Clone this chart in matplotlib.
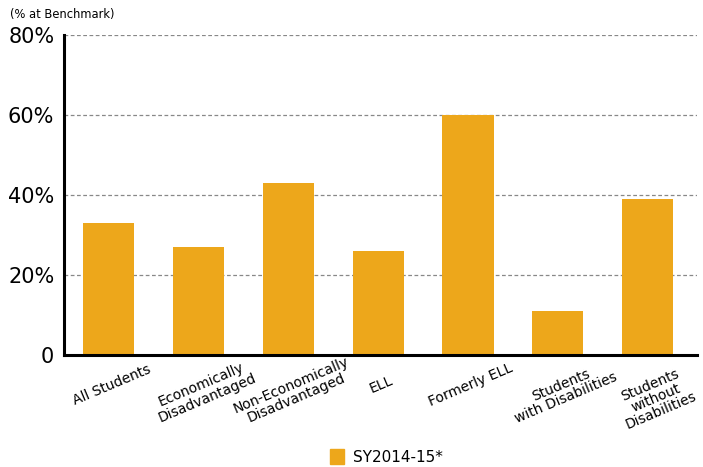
import matplotlib.pyplot as plt
from matplotlib.patches import Patch
import numpy as np

categories = ['All Students', 'Economically\nDisadvantaged', 'Non-Economically\nDisadvantaged',
              'ELL', 'Formerly ELL', 'Students\nwith Disabilities', 'Students\nwithout\nDisabilities']
values = [33, 27, 43, 26, 60, 11, 39]
series_name = 'SY2014-15*'
yticks = [0, 20, 40, 60, 80]
ytick_labels = ['0', '20%', '40%', '60%', '80%']

COND = ['Liberation Sans Narrow', 'DejaVu Sans Condensed', 'DejaVu Sans']
BAR = '#eda71b'

fig = plt.figure(figsize=(7.03, 4.67), dpi=100)
ax = fig.add_axes([0.091, 0.24, 0.9005, 0.685])

x = np.arange(len(categories))
ax.bar(x, values, width=0.57, color=BAR, zorder=2)

ax.set_ylim(0, 80)
ax.set_xlim(-0.5, 6.55)
ax.set_yticks(yticks)
ax.set_yticklabels(ytick_labels, family=COND, fontsize=15)
ax.set_xticks(x)
ax.set_xticklabels(categories, family=COND, fontsize=10, rotation=23,
                   ha='center', va='top', rotation_mode='anchor',
                   multialignment='center', linespacing=1.0)
ax.tick_params(axis='both', length=0)
ax.tick_params(axis='y', pad=7)
ax.tick_params(axis='x', pad=17)

for v in yticks[1:]:
    ax.axhline(v, color='#888888', lw=0.9, ls=(0, (3, 2)), zorder=1)

for s in ['top', 'right']:
    ax.spines[s].set_visible(False)
ax.spines['left'].set_linewidth(2.2)
ax.spines['bottom'].set_linewidth(2.2)

fig.text(0.014, 0.968, '(% at Benchmark)', fontsize=8.3, family='DejaVu Sans', va='center')

leg = fig.legend(handles=[Patch(color=BAR, label=series_name)], loc='center',
                 bbox_to_anchor=(0.55, 0.022), frameon=False, handlelength=0.9,
                 handleheight=1.2, handletextpad=0.6, prop={'family': COND, 'size': 11})

fig.savefig('out.png', dpi=100)
